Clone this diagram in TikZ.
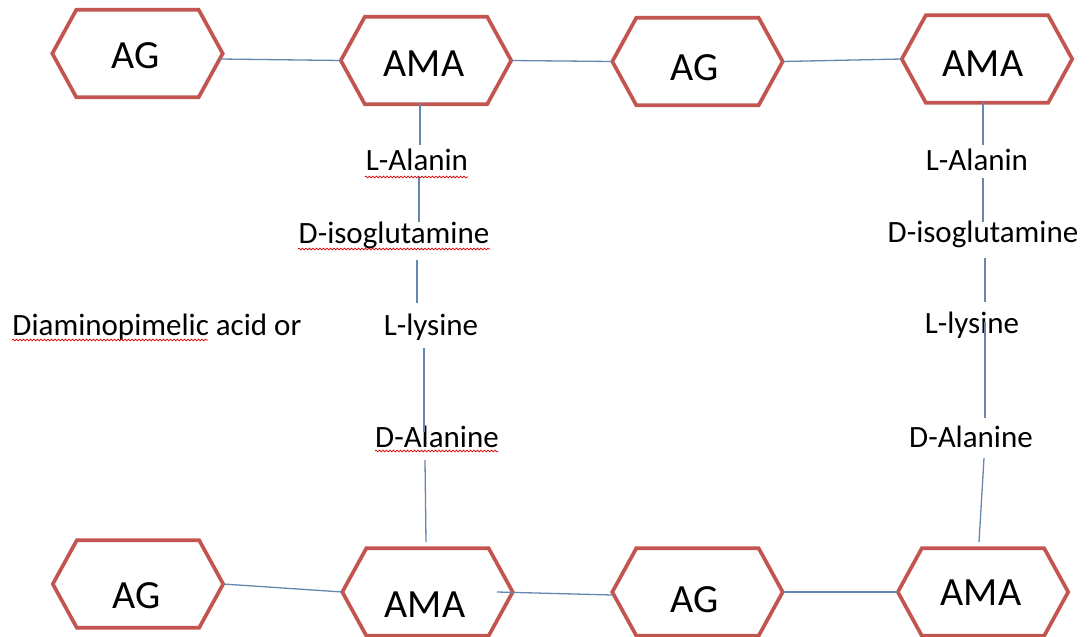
\documentclass[tikz,border=0pt]{standalone}
\usepackage{fontspec}
\setmainfont{Carlito}
\usetikzlibrary{calc,decorations.pathmorphing}
\definecolor{hexred}{RGB}{195,85,80}
\definecolor{connblue}{RGB}{100,135,175}
\tikzset{
  hexbox/.style={rectangle,draw=none,minimum width=170pt,minimum height=87pt,inner sep=0pt},
  hexline/.style={draw=hexred,line width=3.7pt,fill=white},
  hextext/.style={anchor=base,inner sep=0pt,font=\fontsize{40}{48}\selectfont},
  lbl/.style={anchor=base,inner sep=0pt,font=\fontsize{31}{37}\selectfont},
  conn/.style={draw=connblue,line width=1.3pt},
  spell/.style={draw=red!85!black,line width=0.7pt,decorate,decoration={snake,amplitude=0.9pt,segment length=3.5pt}}
}
\newcommand{\hexat}[3]{%
  \node[hexbox] (#1) at (#2,#3) {};
  \path[hexline] (#1.west) -- ($(#1.north west)+(24,0)$) -- ($(#1.north east)+(-24,0)$) -- (#1.east)
     -- ($(#1.south east)+(-24,0)$) -- ($(#1.south west)+(24,0)$) -- cycle;}
\begin{document}
\begin{tikzpicture}[x=1pt,y=-1pt]
\useasboundingbox (0,0) rectangle (1090,637);
% hexagons
\hexat{ag1}{137.5}{53.5}
\hexat{ama1}{426}{60.5}
\hexat{ag2}{697.5}{61.5}
\hexat{ama2}{987}{59}
\hexat{ag3}{138}{584}
\hexat{ama3}{427.5}{592}
\hexat{ag4}{697.5}{592}
\hexat{ama4}{983}{592}
% hexagon texts
\node[hextext] (tag1) at (136,68) {AG};
\node[hextext] (tama1) at (424,76) {AMA};
\node[hextext] (tag2) at (695,80) {AG};
\node[hextext] (tama2) at (983,76) {AMA};
\node[hextext] (tag3) at (137,608) {AG};
\node[hextext] (tama3) at (425,617) {AMA};
\node[hextext] (tag4) at (695,612) {AG};
\node[hextext] (tama4) at (981,605) {AMA};
% horizontal connectors
\draw[conn] ($(ag1.east)+(-3,5.5)$) -- (ama1.west);
\draw[conn] (ama1.east) -- (ag2.west);
\draw[conn] (ag2.east) -- (ama2.west);
\draw[conn] (ag3.east) -- (ama3.west);
\coordinate (ama3r) at (497,592);
\draw[conn] (ama3r) -- ([yshift=-3pt]ag4.west);
\draw[conn] (ag4.east) -- (ama4.west);
% labels left column
\node[lbl] (la1) at (417,170) {L-Alanin};
\node[lbl] (dg1) at (394,243) {D-isoglutamine};
\node[lbl] (ll1) at (431,335) {L-lysine};
\node[lbl] (da1) at (437,447) {D-Alanine};
\node[lbl] (dap) at (157,335) {Diaminopimelic acid or};
% labels right column
\node[lbl] (la2) at (977,170) {L-Alanin};
\node[lbl] (dg2) at (983,242) {D-isoglutamine};
\node[lbl] (ll2) at (972,333) {L-lysine};
\node[lbl] (da2) at (971,447) {D-Alanine};
% left vertical chain
\coordinate (l1a) at (420,103);  \coordinate (l1b) at (420,145);
\coordinate (l2a) at (419,177);  \coordinate (l2b) at (419,222);
\coordinate (l3a) at (417,260);  \coordinate (l3b) at (417,303);
\coordinate (l4a) at (424,348);  \coordinate (l4b) at (424,432);
\coordinate (l5a) at (425,460);  \coordinate (l5b) at (426,542);
\draw[conn] (l1a) -- (l1b);
\draw[conn] (l2a) -- (l2b);
\draw[conn] (l3a) -- (l3b);
\draw[conn] (l4a) -- (l4b);
\draw[conn] (l5a) -- (l5b);
% right vertical chain
\coordinate (r1a) at (983,102);  \coordinate (r1b) at (983,145);
\coordinate (r2a) at (983,178);  \coordinate (r2b) at (983,222);
\coordinate (r3a) at (985,258);  \coordinate (r3b) at (985,302);
\coordinate (r4a) at (985,322);  \coordinate (r4b) at (985,418);
\coordinate (r5a) at (984,458);  \coordinate (r5b) at (979,542);
\draw[conn] (r1a) -- (r1b);
\draw[conn] (r2a) -- (r2b);
\draw[conn] (r3a) -- (r3b);
\draw[conn] (r4a) -- (r4b);
\draw[conn] (r5a) -- (r5b);
% spell-check underlines
\draw[spell] (12,340) -- (208,340);
\draw[spell] (365,177) -- (468,177);
\draw[spell] (298,249) -- (490,249);
\draw[spell] (375,451) -- (498,451);
\end{tikzpicture}
\end{document}
